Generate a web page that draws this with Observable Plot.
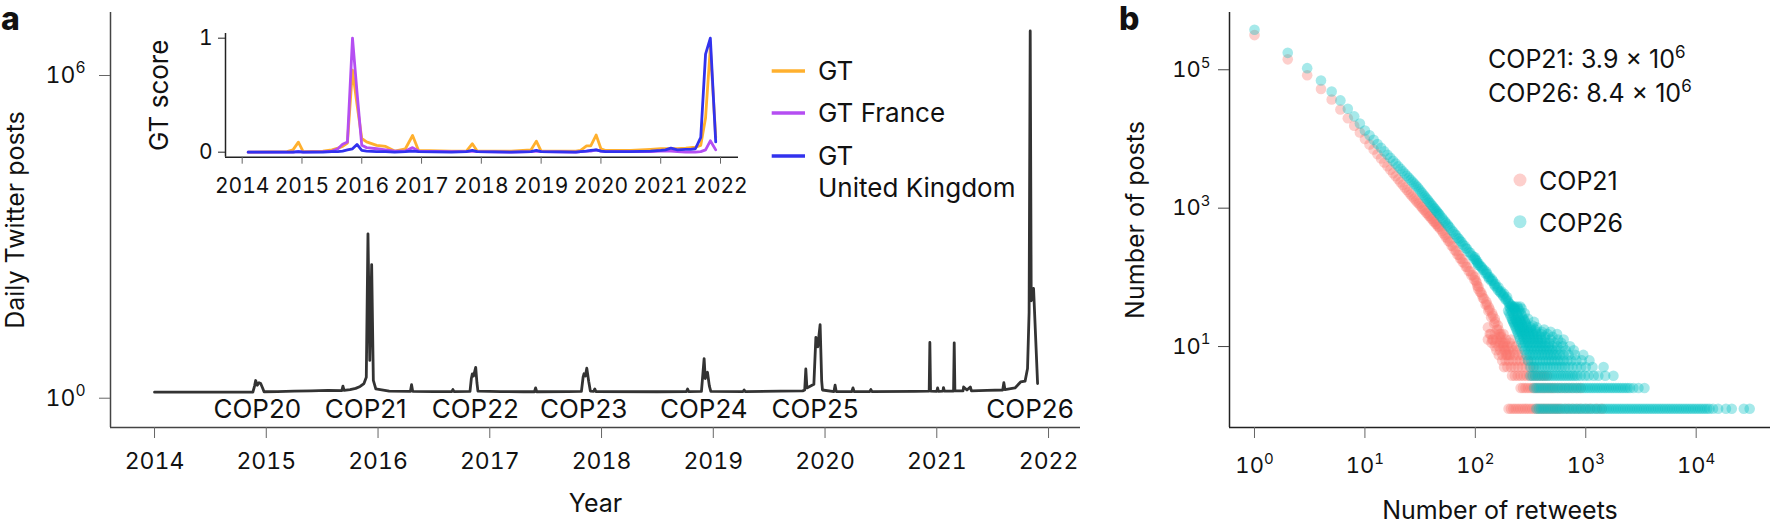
<!DOCTYPE html>
<html><head><meta charset="utf-8">
<script src="https://cdn.jsdelivr.net/npm/d3@7"></script>
<script src="https://cdn.jsdelivr.net/npm/@observablehq/plot@0.6"></script>
<style>
html,body{margin:0;padding:0;background:#fff;}
#root{position:relative;width:1770px;height:521px;overflow:hidden;background:#fff;font-family:Inter,"Noto Sans",sans-serif;}
</style></head><body><div id="root"></div>
<script>
// ---------- Panel a: daily Twitter posts ----------
const yearTicks = [2014, 2015, 2016, 2017, 2018, 2019, 2020, 2021, 2022];
const dailyYear = [2014.000,2014.880,2014.895,2014.905,2014.920,2014.935,2014.950,2014.967,2014.980,2015.100,2015.250,2015.400,2015.550,2015.676,2015.686,2015.696,2015.750,2015.800,2015.840,2015.874,2015.895,2015.910,2015.926,2015.943,2015.958,2015.980,2016.100,2016.290,2016.300,2016.310,2016.500,2016.660,2016.670,2016.680,2016.823,2016.835,2016.844,2016.855,2016.874,2016.885,2016.894,2017.100,2017.300,2017.400,2017.410,2017.420,2017.700,2017.820,2017.835,2017.843,2017.855,2017.868,2017.885,2017.900,2017.930,2017.940,2017.950,2018.500,2018.760,2018.770,2018.780,2018.894,2018.918,2018.928,2018.948,2018.965,2018.978,2019.266,2019.276,2019.286,2019.600,2019.800,2019.818,2019.828,2019.838,2019.900,2019.918,2019.935,2019.956,2019.970,2019.977,2020.080,2020.090,2020.100,2020.240,2020.250,2020.260,2020.400,2020.410,2020.420,2020.800,2020.932,2020.938,2020.944,2021.000,2021.007,2021.015,2021.055,2021.060,2021.068,2021.150,2021.156,2021.162,2021.235,2021.240,2021.270,2021.300,2021.310,2021.450,2021.590,2021.600,2021.610,2021.700,2021.750,2021.790,2021.812,2021.826,2021.836,2021.845,2021.866,2021.902];
const dailyPosts = [1,1,1.3,1.65,1.35,1.5,1.45,1.2,1.02,1.03,1.05,1.06,1.08,1.07,1.3,1.08,1.12,1.18,1.28,1.45,1.9,880,3.9,236,1.66,1.15,1.05,1.04,1.38,1.04,1.03,1.03,1.12,1.03,1.04,1.8,2.2,2.0,2.9,1.5,1.05,1.03,1.02,1.02,1.2,1.02,1.03,1.04,1.9,2.2,2.0,2.8,1.6,1.05,1.04,1.15,1.03,1.02,1.03,1.15,1.03,1.04,4.2,1.8,2.35,1.3,1.04,1.03,1.1,1.03,1.05,1.06,1.1,2.7,1.2,1.4,10.5,7.0,18,1.6,1.1,1.03,1.35,1.03,1.03,1.2,1.03,1.03,1.12,1.03,1.04,1.05,8.4,1.05,1.04,1.2,1.04,1.05,1.22,1.05,1.05,8.3,1.06,1.06,1.25,1.1,1.25,1.06,1.08,1.1,1.5,1.12,1.2,1.55,1.6,2.75,30,5.2e6,50,85,1.45];
const copNames = ["COP20","COP21","COP22","COP23","COP24","COP25","COP26"];
const copYears = [2014.92, 2015.89, 2016.87, 2017.84, 2018.915, 2019.91, 2021.835];

// ---------- Inset: Google Trends ----------
const gtYear = [2014.10,2014.75,2014.85,2014.94,2015.02,2015.35,2015.50,2015.60,2015.68,2015.76,2015.845,2015.92,2016.00,2016.08,2016.25,2016.40,2016.55,2016.73,2016.85,2016.95,2017.50,2017.75,2017.85,2017.93,2018.50,2018.83,2018.92,2019.00,2019.58,2019.66,2019.76,2019.83,2019.92,2020.00,2020.08,2020.50,2020.83,2021.00,2021.08,2021.17,2021.28,2021.42,2021.50,2021.58,2021.67,2021.75,2021.83,2021.92];
const gtWorld = [0,0.005,0.02,0.088,0.005,0.01,0.02,0.035,0.05,0.08,0.72,0.42,0.12,0.09,0.06,0.05,0.01,0.03,0.146,0.015,0.01,0.01,0.074,0.01,0.01,0.02,0.097,0.01,0.01,0.016,0.055,0.055,0.15,0.03,0.015,0.015,0.025,0.03,0.03,0.03,0.03,0.035,0.04,0.045,0.06,0.3,0.92,0.13];
const gtFrance = [0,0,0,0.005,0,0.005,0.01,0.03,0.07,0.09,1.0,0.53,0.06,0.04,0.03,0.02,0.01,0.01,0.04,0.01,0.005,0.005,0.01,0.005,0,0.005,0.01,0.005,0,0.005,0.01,0.01,0.02,0.01,0.005,0.005,0.005,0.01,0.01,0.01,0.005,0,0,0,0.005,0.02,0.10,0.02];
const gtUK = [0,0,0,0.005,0,0,0.005,0.005,0.01,0.02,0.03,0.068,0.015,0.01,0.005,0.005,0,0.005,0.01,0.005,0,0.005,0.016,0.005,0,0.005,0.015,0.005,0,0.005,0.01,0.015,0.02,0.01,0.005,0.005,0.01,0.015,0.02,0.035,0.02,0.025,0.025,0.03,0.13,0.86,1.0,0.09];
const gtLabels = ["GT", "GT France", "GT\nUnited Kingdom"];
const gtColors = ["#FFB02E", "#B54EF2", "#3232EE"];

// ---------- Panel b: retweet distributions ----------
const cop21SlopeRetweets = [1,2,3,4,5,6,7,8,9,10,11,12,13,14,15,16,17,18,19,20,21,22,23,24,25,26,27,28,29,30,31,32,33,34,35,36,37,38,39,40,41,42,43,44,45,46,47,48,50,51,53,54,56,57,59,61,63,65,67,69,71,73,75,77,80,82,84,87,90,92,95,98,101,104,107,110,113,117,120,124,128,131,135,139,144,148,152,157,162,167,172,177,182,188,194,200,99,103,106,115,126,133,142,150,160,170,138,145,130];
const cop21SlopePosts = [251000,112000,66000,41700,29500,21100,15800,12300,9800,7940,6601,5577,4775,4137,3617,3192,2838,2539,2287,2071,1884,1721,1579,1453,1345,1251,1167,1091,1023,955,915,848,812,758,731,680,660,615,601,560,548,510,502,468,462,430,426,398,375,346,328,302,290,266,256,227,221,195,191,169,167,148,147,131,127,113,113,98,97,85,86,73,71,60,58,49,48,40,39,32,32,26,27,21,22,17,18,14,14,11,11,9,8,7,6,6,80,66,54,44,35,29,24,20,16,12,12,10,15];
const cop21RowPosts = [12,10,9,8,7,6,5,4,3,2,1];
const cop21RowRetweets = [
  [135,150,165,180],
  [130,142,155,170,190,210],
  [140,152,168,185,205],
  [150,163,178,195,215,235],
  [155,168,183,200,220,240],
  [163,176,190,206,224,245,265],
  [175,188,202,218,235,254,275,300],
  [182,195,210,226,244,263,285,310,340],
  [215,228,242,257,273,290,308,327,348,370,395,420,450],
  [257,270,284,299,315,331,348,366,385,405,426,448,471,495,520,560,600,650,700,760,830,900],
  [200,210,221,232,244,256,269,283,297,312,328,345,362,381,400,420,442,464,488,513,539,566,595,650,700,760,830,900,1000,1100,1250,1400]
];
const cop26SlopeRetweets = [1,2,3,4,5,6,7,8,9,10,11,12,13,14,15,16,17,18,19,20,21,22,23,24,25,26,27,28,29,30,31,32,33,34,35,36,37,38,39,40,41,42,43,44,45,46,47,48,50,51,53,54,56,57,59,61,63,65,67,69,71,73,75,77,80,82,84,87,90,92,95,98,101,104,107,110,113,117,120,124,128,131,135,139,144,148,152,157,162,167,172,177,182,188,194,200,99,103,106,115,126,133,142,150,160,170,180,190,197,205,212,220,228];
const cop26SlopePosts = [300000,139000,83600,55500,38500,28600,21700,16800,13200,10500,8930,7690,6700,5900,5240,4690,4230,3830,3490,3190,2937,2710,2512,2330,2176,2030,1905,1790,1686,1585,1490,1388,1315,1228,1170,1096,1045,982,941,887,853,803,776,731,709,668,650,614,575,543,512,485,459,434,414,379,362,335,321,296,286,265,256,237,226,209,205,185,179,165,160,146,142,129,127,116,114,101,102,90,89,81,80,71,70,63,64,56,57,49,50,44,46,38,41,34,155,137,120,108,95,76,74,60,52,47,42,39,36,33,31,30,28];
const cop26RowPosts = [30,28,26,24,22,20,19,18,17,16,15,14,13,12,11,10,9,8,7,6,5,4,3,2,1];
const cop26RowRetweets = [
  [204,215,228,240,255],
  [208,225,245,262],
  [198,213,230,250],
  [203,218,236,258,280],
  [208,224,243,265],
  [214,230,250,272,300],
  [217,234,254,278],
  [220,238,258,282,340],
  [224,242,262,286],
  [228,246,266,290,330],
  [232,250,270,292,318,360],
  [236,254,274,296,320,350,420],
  [240,258,278,300,325,355,400,480],
  [245,265,285,307,332,360,395,450,550],
  [250,270,290,312,336,362,392,430,500],
  [255,275,296,318,342,368,396,430,480,560,630],
  [262,282,302,324,347,372,398,428,465,520,600],
  [270,290,310,332,355,380,405,432,462,500,550,620,720],
  [280,300,320,342,365,390,415,442,470,500,540,590,660,780],
  [290,310,330,352,375,400,425,452,480,512,545,580,630,700,800,950],
  [300,320,340,362,385,410,435,462,490,520,555,590,630,680,740,820,920,1080],
  [316,335,355,378,400,425,450,478,508,540,575,610,650,700,760,830,910,1000,1150,1450],
  [316,332,349,366,385,404,424,445,468,491,516,542,569,597,627,658,691,726,762,800,840,900,980,1060,1180,1300,1500,1780],
  [340,357,375,394,413,434,456,479,503,528,554,582,611,642,674,707,743,780,819,860,903,948,995,1045,1097,1152,1210,1270,1334,1400,1470,1544,1621,1702,1787,1877,1970,2069,2172,2281,2395,2515,2700,3000,3400],
  [357,375,394,413,434,456,479,503,528,554,582,611,642,674,707,743,780,819,860,903,948,995,1045,1097,1152,1210,1270,1334,1400,1470,1544,1621,1702,1787,1877,1970,2069,2172,2281,2395,2515,2640,2772,2911,3056,3209,3370,3538,3715,3901,4096,4300,4515,4741,4978,5227,5488,5763,6051,6353,6671,7005,7355,7723,8109,8514,8940,9387,9856,10350,10870,11410,11980,12580,13210,14200,15800,18600,21000,27000,30500]
];
const retweetTicks = [1, 10, 100, 1000, 10000];
const postTicks = [10, 1000, 100000];
const seriesNames = ["COP21", "COP26"];
const seriesColors = ["#F8766D", "#00BFC4"];
const totals = ["COP21: 3.9 × 10^6", "COP26: 8.4 × 10^6"];

// ---------- build tables ----------
const daily = dailyYear.map((t, i) => ({t, v: dailyPosts[i]}));
const cops = copNames.map((name, i) => ({name, t: copYears[i]}));
const gt = gtYear.map((t, i) => ({t, world: gtWorld[i], france: gtFrance[i], uk: gtUK[i]}));
function buildPts(sk, sn, rowN, rowK) {
  const pts = sk.map((k, i) => ({k, n: sn[i]}));
  rowN.forEach((n, j) => rowK[j].forEach(k => pts.push({k, n})));
  return pts;
}
const cop21Pts = buildPts(cop21SlopeRetweets, cop21SlopePosts, cop21RowPosts, cop21RowRetweets);
const cop26Pts = buildPts(cop26SlopeRetweets, cop26SlopePosts, cop26RowPosts, cop26RowRetweets);

const FONT = "Inter, 'Noto Sans', sans-serif";
const SVGNS = "http://www.w3.org/2000/svg";
const root = document.getElementById("root");
const pow = d => "10^" + Math.round(Math.log10(d));

function supify(svg) {
  svg.querySelectorAll("text").forEach(el => {
    const ts = el.querySelectorAll("tspan");
    const nodes = ts.length ? Array.from(ts) : [el];
    nodes.forEach(node => {
      const s = node.textContent;
      const i = s.indexOf("^");
      if (i < 0) return;
      const fs = parseFloat(getComputedStyle(node).fontSize) || 22;
      node.textContent = s.slice(0, i);
      const t = document.createElementNS(SVGNS, "tspan");
      t.setAttribute("dy", (-0.42 * fs).toFixed(1));
      t.setAttribute("font-size", (0.68 * fs).toFixed(1));
      t.textContent = s.slice(i + 1);
      node.appendChild(t);
    });
  });
}
function place(svg, left, top) {
  svg.style.position = "absolute";
  svg.style.left = left + "px";
  svg.style.top = top + "px";
  root.appendChild(svg);
  supify(svg);
  return svg;
}

// ---------- Panel a main ----------
const xDomA = [2013.606, 2022.286];
const yDomA = [Math.pow(10, -0.656), Math.pow(10, 7.06)];
place(Plot.plot({
  width: 1090, height: 521,
  marginTop: 12, marginRight: 10, marginBottom: 94, marginLeft: 110,
  style: {background: "transparent", fontFamily: FONT, color: "#111", overflow: "visible"},
  x: {domain: xDomA, axis: null, label: null},
  y: {type: "log", domain: yDomA, axis: null, label: null},
  marks: [
    Plot.ruleX([xDomA[0]], {stroke: "#444", strokeWidth: 1.5}),
    Plot.ruleY([yDomA[0]], {stroke: "#444", strokeWidth: 1.5}),
    Plot.axisX({ticks: yearTicks, tickFormat: d => String(d), tickSize: 11, tickPadding: 14, fontSize: 23, stroke: "#666", fill: "#111", label: null}),
    Plot.axisY({ticks: [1, 1e6], tickFormat: pow, tickSize: 11, tickPadding: 14, fontSize: 23, dy: 6, stroke: "#666", fill: "#111", label: null}),
    Plot.line(daily, {x: "t", y: "v", stroke: "#333", strokeWidth: 2.8, strokeLinejoin: "round"}),
    Plot.text(cops, {x: "t", text: "name", frameAnchor: "bottom", lineAnchor: "bottom", dy: -9.3, fontSize: 26, fill: "#111"}),
    Plot.text(["Year"], {frameAnchor: "bottom", lineAnchor: "bottom", dy: 84.7, fontSize: 25, fill: "#111"}),
    Plot.text(["Daily Twitter posts"], {frameAnchor: "left", textAnchor: "middle", rotate: -90, lineAnchor: "bottom", dx: -87, fontSize: 25, fill: "#111"})
  ]
}), 0, 0);

// ---------- Inset ----------
const xDomI = [2013.721, 2022.301];
const yDomI = [-0.044, 1.041];
place(Plot.plot({
  width: 740, height: 200,
  marginTop: 33, marginRight: 2, marginBottom: 43.3, marginLeft: 225,
  style: {background: "transparent", fontFamily: FONT, color: "#111", overflow: "visible"},
  x: {domain: xDomI, axis: null, label: null},
  y: {domain: yDomI, axis: null, label: null},
  marks: [
    Plot.ruleX([xDomI[0]], {stroke: "#222", strokeWidth: 1.5}),
    Plot.ruleY([yDomI[0]], {stroke: "#222", strokeWidth: 1.5}),
    Plot.axisX({ticks: yearTicks, tickFormat: d => String(d), tickSize: 7, tickPadding: 14, fontSize: 21, stroke: "#666", fill: "#111", label: null}),
    Plot.axisY({ticks: [0, 1], tickFormat: d => String(d), tickSize: 7, tickPadding: 6, fontSize: 21, stroke: "#222", fill: "#111", label: null}),
    Plot.line(gt, {x: "t", y: "world", stroke: gtColors[0], strokeWidth: 2.8, strokeLinejoin: "round"}),
    Plot.line(gt, {x: "t", y: "france", stroke: gtColors[1], strokeWidth: 2.8, strokeLinejoin: "round"}),
    Plot.line(gt, {x: "t", y: "uk", stroke: gtColors[2], strokeWidth: 2.8, strokeLinejoin: "round"}),
    Plot.text(["GT score"], {frameAnchor: "left", textAnchor: "middle", rotate: -90, lineAnchor: "bottom", dx: -57.3, fontSize: 26, fill: "#111"})
  ]
}), 0, 0);

// ---------- Panel b ----------
const xDomB = [Math.pow(10, -0.2264), Math.pow(10, 4.673)];
const yDomB = [Math.pow(10, -0.2708), Math.pow(10, 5.7264)];
place(Plot.plot({
  width: 680, height: 521,
  marginTop: 12, marginRight: 0, marginBottom: 94, marginLeft: 139,
  style: {background: "transparent", fontFamily: FONT, color: "#111", overflow: "visible"},
  x: {type: "log", domain: xDomB, axis: null, label: null},
  y: {type: "log", domain: yDomB, axis: null, label: null},
  marks: [
    Plot.ruleX([xDomB[0]], {stroke: "#222", strokeWidth: 1.5}),
    Plot.ruleY([yDomB[0]], {stroke: "#222", strokeWidth: 1.5}),
    Plot.axisX({ticks: retweetTicks, tickFormat: pow, tickSize: 11, tickPadding: 19, fontSize: 22, stroke: "#666", fill: "#111", label: null}),
    Plot.axisY({ticks: postTicks, tickFormat: pow, tickSize: 11, tickPadding: 8, fontSize: 22, dy: 7, stroke: "#444", fill: "#111", label: null}),
    Plot.dot(cop21Pts, {x: "k", y: "n", r: 5.3, fill: seriesColors[0], fillOpacity: 0.35}),
    Plot.dot(cop26Pts, {x: "k", y: "n", r: 5.3, fill: seriesColors[1], fillOpacity: 0.35}),
    Plot.text(["Number of retweets"], {frameAnchor: "bottom", lineAnchor: "bottom", dy: 91.3, fontSize: 25, fill: "#111"}),
    Plot.text(["Number of posts"], {frameAnchor: "left", textAnchor: "middle", rotate: -90, lineAnchor: "bottom", dx: -86, fontSize: 25, fill: "#111"})
  ]
}), 1090, 0);

// ---------- overlay: panel letters, legends, annotation ----------
const ov = d3.create("svg").attr("width", 1770).attr("height", 521)
  .attr("style", "position:absolute;left:0;top:0;pointer-events:none;font-family:" + FONT.replace(/"/g, "'"));
ov.append("text").attr("x", 1).attr("y", 30).attr("font-size", 32).attr("font-weight", 800).attr("fill", "#111").text("a");
ov.append("text").attr("x", 1119).attr("y", 30).attr("font-size", 32).attr("font-weight", 800).attr("fill", "#111").text("b");
// inset legend
const legY = [71, 113, 156];
gtLabels.forEach((lab, i) => {
  ov.append("line").attr("x1", 771.7).attr("x2", 805).attr("y1", legY[i]).attr("y2", legY[i])
    .attr("stroke", gtColors[i]).attr("stroke-width", 3.3);
  const lines = lab.split("\n");
  lines.forEach((ln, j) => ov.append("text").attr("x", 818).attr("y", legY[i] + 9 + j * 31.7)
    .attr("font-size", 26).attr("fill", "#111").text(ln));
});
// totals annotation
totals.forEach((s, i) => {
  const [base, sup] = s.split("^");
  const t = ov.append("text").attr("x", 1488).attr("y", 68.3 + i * 33.4).attr("font-size", 25).attr("fill", "#111");
  t.append("tspan").text(base);
  t.append("tspan").attr("dy", -10).attr("font-size", 17).text(sup);
});
// scatter legend
seriesNames.forEach((name, i) => {
  ov.append("circle").attr("cx", 1520).attr("cy", 180 + i * 41.7).attr("r", 6.5)
    .attr("fill", seriesColors[i]).attr("fill-opacity", 0.35);
  ov.append("text").attr("x", 1539).attr("y", 190 + i * 41.7).attr("font-size", 25).attr("fill", "#111").text(name);
});
root.appendChild(ov.node());
</script></body></html>
